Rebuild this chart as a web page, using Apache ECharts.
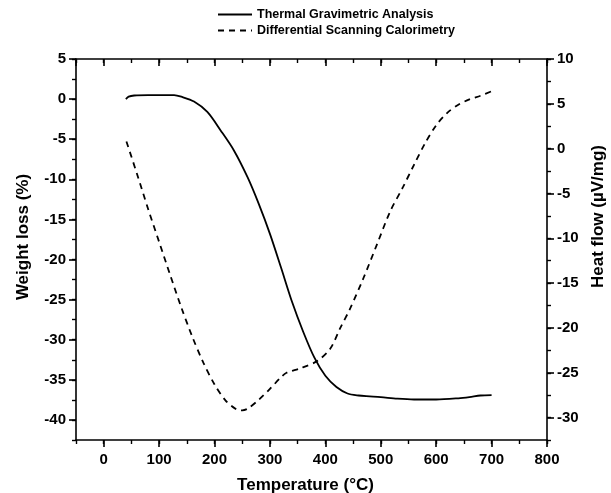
<!DOCTYPE html>
<html>
<head>
<meta charset="utf-8">
<script src="https://cdn.jsdelivr.net/npm/echarts@6/dist/echarts.min.js"></script>
<style>
html,body{margin:0;padding:0;background:#fff;}
#chart{width:611px;height:493px;}
</style>
</head>
<body>
<div id="chart"></div>
<script>
// ---- data ----
const tgaTemp = [40,45,55,80,100,127,140,163,187,211,235,260,280,300,320,340,360,380,400,420,440,460,480,500,530,560,600,640,660,680,700];
const tgaWeight = [0.0,0.3,0.45,0.5,0.5,0.5,0.3,-0.3,-1.6,-3.9,-6.4,-9.8,-13.1,-16.8,-21.0,-25.3,-29.0,-32.2,-34.5,-35.9,-36.7,-36.95,-37.05,-37.15,-37.35,-37.45,-37.45,-37.3,-37.15,-36.95,-36.9];
const dscTemp = [41,60,80,100,120,140,160,180,200,220,240,250,260,280,300,320,330,355,385,409,427,445,469,493,517,540,560,580,600,620,640,660,680,700];
const dscFlow = [0.8,-2.8,-6.7,-10.4,-14.1,-17.7,-21.0,-23.9,-26.3,-28.1,-29.1,-29.2,-29.0,-28.0,-26.8,-25.5,-25.0,-24.5,-23.7,-22.3,-20.0,-17.8,-14.4,-10.7,-7.0,-4.3,-1.8,0.6,2.6,4.0,4.9,5.5,5.9,6.4];
const seriesNames = ['Thermal Gravimetric Analysis','Differential Scanning Calorimetry'];
const xName = 'Temperature (°C)';
const yLeftName = 'Weight loss (%)';
const yRightName = 'Heat flow (µV/mg)';

const FONT = '"Liberation Sans", Arial, sans-serif';
const chart = echarts.init(document.getElementById('chart'));
const black = '#000';
const lbl = {color: black, fontFamily: FONT, fontWeight: 'bold', fontSize: 15};
const nameStyle = {color: black, fontFamily: FONT, fontWeight: 'bold', fontSize: 17};

function majorX(pos, inside, show) {
  return {
    type: 'value', position: pos, min: -50, max: 800, minInterval: 100, maxInterval: 100,
    axisLine: {show: true, onZero: false, lineStyle: {color: black, width: 1.6}},
    axisTick: {show: true, inside: inside, length: 7, lineStyle: {color: black, width: 1.6}},
    axisLabel: show ? Object.assign({margin: 12, showMinLabel: false}, lbl) : {show: false},
    splitLine: {show: false},
    name: show ? xName : '', nameLocation: 'middle', nameGap: 37,
    nameTextStyle: Object.assign({padding: [0, 12, 0, 0]}, nameStyle)
  };
}
function minorX(pos, inside) {
  return {
    type: 'value', position: pos, min: -50, max: 800, interval: 50,
    axisLine: {show: false, onZero: false}, axisTick: {show: true, inside: inside, length: 4, lineStyle: {color: black, width: 1.4}},
    axisLabel: {show: false}, splitLine: {show: false}
  };
}
function majorY(pos, min, max, name, gap, pad) {
  return {
    type: 'value', position: pos, min: min, max: max, minInterval: 5, maxInterval: 5,
    axisLine: {show: true, onZero: false, lineStyle: {color: black, width: 1.6}},
    axisTick: {show: true, inside: false, length: 7, lineStyle: {color: black, width: 1.6}},
    axisLabel: Object.assign({margin: 10, showMinLabel: false}, lbl),
    splitLine: {show: false},
    name: name, nameLocation: 'middle', nameGap: gap,
    nameTextStyle: Object.assign({padding: [0, 0, 0, pad]}, nameStyle)
  };
}
function minorY(pos, min, max) {
  return {
    type: 'value', position: pos, min: min, max: max, interval: 2.5,
    axisLine: {show: false, onZero: false}, axisTick: {show: true, inside: false, length: 4, lineStyle: {color: black, width: 1.4}},
    axisLabel: {show: false}, splitLine: {show: false}
  };
}

chart.setOption({
  backgroundColor: '#fff',
  animation: false,
  grid: {left: 76, right: 64, top: 59, bottom: 53, containLabel: false, outerBoundsMode: 'none'},
  legend: {
    orient: 'vertical', left: 212, top: 3, itemGap: 3, itemWidth: 34, itemHeight: 12,
    itemStyle: {opacity: 0},
    textStyle: {color: black, fontFamily: FONT, fontWeight: 'bold', fontSize: 12.5},
    data: seriesNames
  },
  xAxis: [majorX('bottom', false, true), minorX('bottom', false), majorX('top', true, false), minorX('top', true)],
  yAxis: [
    majorY('left', -42.5, 5, yLeftName, 44, 25),
    minorY('left', -42.5, 5),
    majorY('right', -32.5, 10, yRightName, 43, 66),
    minorY('right', -32.5, 10)
  ],
  series: [
    {
      name: seriesNames[0], type: 'line', xAxisIndex: 0, yAxisIndex: 0,
      data: tgaTemp.map((t, i) => [t, tgaWeight[i]]),
      smooth: 0.3, showSymbol: false, symbol: 'none',
      lineStyle: {color: black, width: 1.8, type: 'solid'}, itemStyle: {color: black}
    },
    {
      name: seriesNames[1], type: 'line', xAxisIndex: 0, yAxisIndex: 2,
      data: dscTemp.map((t, i) => [t, dscFlow[i]]),
      smooth: 0.3, showSymbol: false, symbol: 'none',
      lineStyle: {color: black, width: 1.8, type: [6, 5]}, itemStyle: {color: black}
    }
  ]
});
</script>
</body>
</html>
